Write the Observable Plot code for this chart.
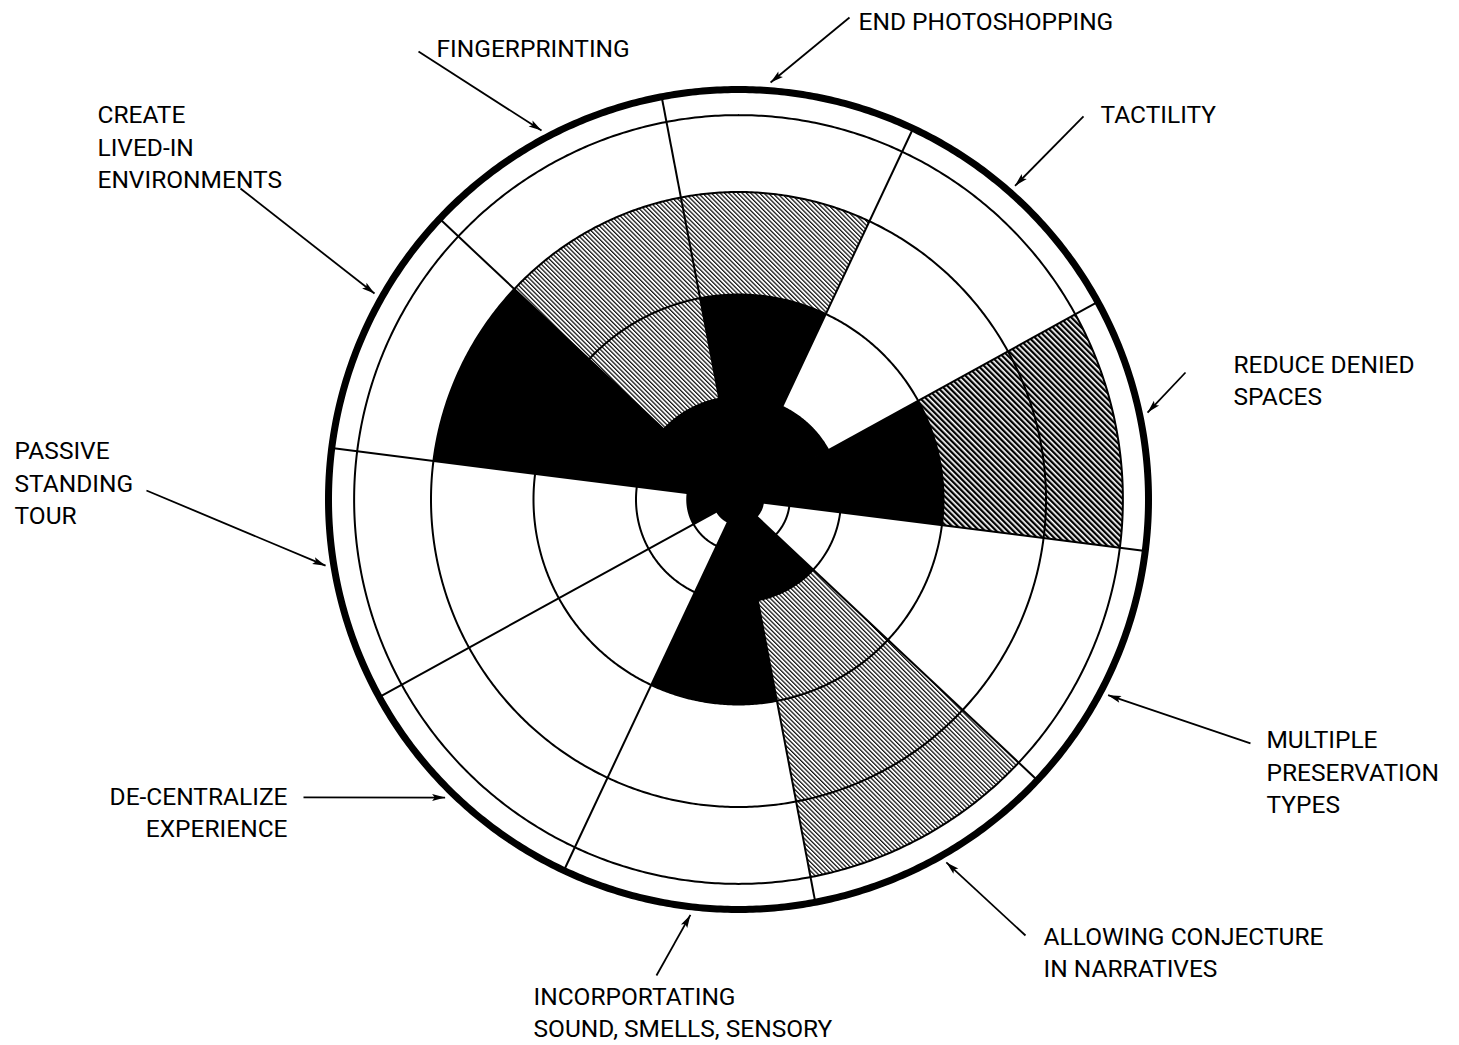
<!DOCTYPE html>
<html>
<head>
<meta charset="utf-8">
<script src="https://cdn.jsdelivr.net/npm/d3@7"></script>
<script src="https://cdn.jsdelivr.net/npm/@observablehq/plot@0.6"></script>
<style>
  html, body { margin: 0; padding: 0; background: #ffffff; }
  #chart svg { display: block; }
</style>
</head>
<body>
<div id="chart"></div>
<script>
// ---------------- DATA ----------------
const categories = [
  "END PHOTOSHOPPING",
  "TACTILITY",
  "REDUCE DENIED SPACES",
  "MULTIPLE PRESERVATION TYPES",
  "ALLOWING CONJECTURE IN NARRATIVES",
  "INCORPORTATING SOUND, SMELLS, SENSORY",
  "DE-CENTRALIZE EXPERIENCE",
  "PASSIVE STANDING TOUR",
  "CREATE LIVED-IN ENVIRONMENTS",
  "FINGERPRINTING"
];
// stacked radial series (inner to outer)
const solidValues      = [2, 1, 2,    0.25, 1,    2, 0.25, 0.5, 3, 1];
const lightHatchValues = [1, 0, 0,    0,    2.75, 0, 0,    0,   0, 2];
const denseHatchValues = [0, 0, 1.75, 0,    0,    0, 0,    0,   0, 0];
// radial grid
const gridRadii = [0.5, 1, 2, 3, 3.75];
const outerRadius = 4;
// label text, line by line
const labelLines = [
  ["END PHOTOSHOPPING"],
  ["TACTILITY"],
  ["REDUCE DENIED", "SPACES"],
  ["MULTIPLE", "PRESERVATION", "TYPES"],
  ["ALLOWING CONJECTURE", "IN NARRATIVES"],
  ["INCORPORTATING", "SOUND, SMELLS, SENSORY"],
  ["DE-CENTRALIZE", "EXPERIENCE"],
  ["PASSIVE", "STANDING", "TOUR"],
  ["CREATE", "LIVED-IN", "ENVIRONMENTS"],
  ["FINGERPRINTING"]
];

// ---------------- LAYOUT ----------------
const W = 1459, H = 1045;
const CX = 738, CY = 499;       // centre of the dial in the page
const UNIT = 102.5;             // pixels per radial unit
const START_ANGLE = 7.2;        // compass angle of the first sector centre
const STEP = 360 / categories.length;
const TEXT_NUDGE = 0.03;        // raise labels slightly (chart units)

// annotation layout in chart units (relative to the dial centre)
const labelLayout = [
  {text: [1.171, 4.654],  tail: [1.083, 4.702],  tipAngle: 4.4,   anchor: "start"},
  {text: [3.532, 3.746],  tail: [3.366, 3.737],  tipAngle: 41.4,  anchor: "start"},
  {text: [4.829, 1.151],  tail: [4.361, 1.239],  tipAngle: 78.0,  anchor: "start"},
  {text: [5.151, -2.673], tail: [4.995, -2.380], tipAngle: 117.9, anchor: "start"},
  {text: [2.976, -4.429], tail: [2.800, -4.254], tipAngle: 150.2, anchor: "start"},
  {text: [-2.0, -5.015],  tail: [-0.800, -4.644],tipAngle: 186.6, anchor: "start"},
  {text: [-4.400, -3.063],tail: [-4.244, -2.907],tipAngle: 224.55,anchor: "end"},
  {text: [-7.063, 0.146], tail: [-5.776, 0.088], tipAngle: 260.9, anchor: "start"},
  {text: [-6.254, 3.424], tail: [-4.859, 3.034], tipAngle: 299.5, anchor: "start"},
  {text: [-2.946, 4.390], tail: [-3.122, 4.371], tipAngle: 331.9, anchor: "start"}
];
const TIP_R = 4.08;

// ---------------- HELPERS ----------------
const rad = d => d * Math.PI / 180;
const polar = (a, r) => [r * Math.sin(rad(a)), r * Math.cos(rad(a))];

const seriesDefs = [
  {key: "solid", values: solidValues},
  {key: "light", values: lightHatchValues},
  {key: "dense", values: denseHatchValues}
];
const segments = [];
categories.forEach((cat, i) => {
  let base = 0;
  for (const s of seriesDefs) {
    const v = s.values[i];
    if (v > 0) { segments.push({cat, i, key: s.key, r0: base, r1: base + v}); base += v; }
  }
});

function wedgeRows(seg, id) {
  const a0 = START_ANGLE + STEP * seg.i - STEP / 2, a1 = a0 + STEP, n = 60;
  const rows = [];
  for (let k = 0; k <= n; k++) { const p = polar(a0 + (a1 - a0) * k / n, seg.r1); rows.push({id, key: seg.key, x: p[0], y: p[1]}); }
  if (seg.r0 > 0) {
    for (let k = n; k >= 0; k--) { const p = polar(a0 + (a1 - a0) * k / n, seg.r0); rows.push({id, key: seg.key, x: p[0], y: p[1]}); }
  } else rows.push({id, key: seg.key, x: 0, y: 0});
  return rows;
}
const wedgeData = segments.flatMap((s, j) => wedgeRows(s, j));

function circleRows(r) {
  const rows = [];
  for (let k = 0; k <= 720; k++) { const p = polar(k / 2, r); rows.push({r, x: p[0], y: p[1]}); }
  return rows;
}
const gridData = gridRadii.flatMap(circleRows);
const outerData = circleRows(outerRadius);

const boundaries = categories.map((c, i) => START_ANGLE + STEP * i - STEP / 2);

const labels = categories.map((c, i) => {
  const L = labelLayout[i];
  const tip = polar(L.tipAngle, TIP_R);
  return {cat: c, text: labelLines[i].join("\n"), tx: L.text[0], ty: L.text[1] + TEXT_NUDGE,
          x1: L.tail[0], y1: L.tail[1], x2: tip[0], y2: tip[1], anchor: L.anchor};
});
// filled arrow heads
const HEAD_L = 13 / UNIT, HEAD_W = 3.6 / UNIT;
const headData = labels.flatMap((d, j) => {
  const dx = d.x2 - d.x1, dy = d.y2 - d.y1, len = Math.hypot(dx, dy);
  const ux = dx / len, uy = dy / len, nx = -uy, ny = ux;
  const bx = d.x2 - ux * HEAD_L, by = d.y2 - uy * HEAD_L;
  return [
    {id: j, x: d.x2, y: d.y2},
    {id: j, x: bx + nx * HEAD_W, y: by + ny * HEAD_W},
    {id: j, x: d.x2 - ux * HEAD_L * 0.8, y: d.y2 - uy * HEAD_L * 0.8},
    {id: j, x: bx - nx * HEAD_W, y: by - ny * HEAD_W}
  ];
});

// pattern definitions
const patternDefs = () => {
  const defs = d3.create("svg:defs");
  const light = defs.append("pattern").attr("id", "hatch-light")
    .attr("patternUnits", "userSpaceOnUse").attr("width", 3.1).attr("height", 10)
    .attr("patternTransform", "rotate(-45)");
  light.append("rect").attr("width", 3.1).attr("height", 10).attr("fill", "#ffffff");
  light.append("rect").attr("width", 1.25).attr("height", 10).attr("fill", "#111111");
  const dense = defs.append("pattern").attr("id", "hatch-dense")
    .attr("patternUnits", "userSpaceOnUse").attr("width", 4.0).attr("height", 10)
    .attr("patternTransform", "rotate(-45)");
  dense.append("rect").attr("width", 4.0).attr("height", 10).attr("fill", "#ffffff");
  dense.append("rect").attr("width", 2.3).attr("height", 10).attr("fill", "#000000");
  return defs.node();
};

const FONT = "Roboto, 'Noto Sans', sans-serif";

const chart = Plot.plot({
  width: W,
  height: H,
  margin: 0,
  x: {domain: [-CX / UNIT, (W - CX) / UNIT], axis: null},
  y: {domain: [-(H - CY) / UNIT, CY / UNIT], axis: null},
  style: {background: "#ffffff", fontFamily: FONT, color: "#000"},
  marks: [
    patternDefs,
    Plot.line(wedgeData.filter(d => d.key === "solid"), {x: "x", y: "y", z: "id", fill: "#000000", stroke: "none"}),
    Plot.line(wedgeData.filter(d => d.key === "light"), {x: "x", y: "y", z: "id", fill: "url(#hatch-light)", stroke: "none"}),
    Plot.line(wedgeData.filter(d => d.key === "dense"), {x: "x", y: "y", z: "id", fill: "url(#hatch-dense)", stroke: "none"}),
    Plot.line(gridData, {x: "x", y: "y", z: "r", stroke: "#000", strokeWidth: 2, fill: "none"}),
    Plot.link(boundaries, {x1: () => 0, y1: () => 0, x2: a => polar(a, outerRadius)[0], y2: a => polar(a, outerRadius)[1], stroke: "#000", strokeWidth: 2}),
    Plot.line(outerData, {x: "x", y: "y", stroke: "#000", strokeWidth: 7, fill: "none"}),
    Plot.link(labels, {x1: "x1", y1: "y1", x2: "x2", y2: "y2", stroke: "#000", strokeWidth: 1.8}),
    Plot.line(headData, {x: "x", y: "y", z: "id", fill: "#000", stroke: "none"}),
    Plot.text(labels.filter(d => d.anchor === "start"), {x: "tx", y: "ty", text: "text", textAnchor: "start", lineAnchor: "middle", fontSize: 24.5, lineHeight: 1.33, fill: "#000", fontFamily: FONT}),
    Plot.text(labels.filter(d => d.anchor === "end"), {x: "tx", y: "ty", text: "text", textAnchor: "end", lineAnchor: "middle", fontSize: 24.5, lineHeight: 1.33, fill: "#000", fontFamily: FONT})
  ]
});
document.getElementById("chart").appendChild(chart);
</script>
</body>
</html>
